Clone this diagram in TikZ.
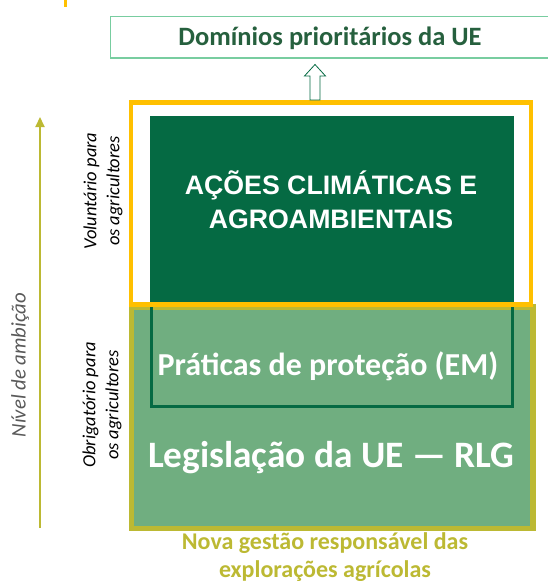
\documentclass[tikz,border=0pt]{standalone}
\usepackage{fontspec}
\setmainfont{Carlito}
\newfontfamily\arialfont{Liberation Sans}
\usetikzlibrary{arrows.meta}
\definecolor{dkgreen}{RGB}{5,106,67}
\definecolor{ltgreen}{RGB}{112,174,128}
\definecolor{olive}{RGB}{188,185,51}
\definecolor{gold}{RGB}{255,192,0}
\definecolor{mint}{RGB}{120,205,160}
\definecolor{titlegreen}{RGB}{38,96,62}
\definecolor{labelgray}{RGB}{89,89,89}
\tikzset{
  boxtext/.style={inner sep=0pt, align=center},
  sidelabel/.style={inner sep=0pt, align=center, rotate=90, font=\fontsize{18.5}{23}\selectfont\itshape},
}
\begin{document}
\begin{tikzpicture}[x=1pt,y=-1pt]
\useasboundingbox (0,0) rectangle (548,581);
\clip (0,0) rectangle (548,581);
% small mark at top
\fill[gold] (64,0) rectangle (67,7);
% top box
\draw[mint, line width=1.5pt] (110.5,16.5) rectangle (560,58);
\node[boxtext, text=titlegreen, font=\fontsize{26.5}{30}\selectfont\bfseries] (top) at (330,38) {Domínios prioritários da UE};
% lower box
\draw[olive, fill=ltgreen, line width=5.5pt] (131.5,307) rectangle (533,528.5);
\draw[dkgreen, line width=3pt] (151.5,305) rectangle (512,406.5);
% dark green box
\fill[dkgreen] (150,116) rectangle (514,303);
% yellow box
\draw[gold, line width=4.5pt] (131,102.5) rectangle (531,304.5);
% hollow arrow
\draw[dkgreen, fill=white, line width=0.8pt] (310,100) -- (310,76) -- (304.5,76) -- (315,64.5) -- (325.5,76) -- (320,76) -- (320,100) -- cycle;
% texts
\node[boxtext, text=white, font=\arialfont\fontsize{26.7}{34}\selectfont\bfseries] (acoes) at (331,200) {AÇÕES CLIMÁTICAS E\\AGROAMBIENTAIS};
\node[boxtext, text=white, font=\fontsize{32}{36}\selectfont\bfseries] (em) at (328,366) {Práticas de proteção (EM)};
\node[boxtext, text=white, font=\fontsize{37.3}{40}\selectfont\bfseries] (rlg) at (331,458) {Legislação da UE — RLG};
\node[boxtext, text=olive, font=\fontsize{24}{28}\selectfont\bfseries] (nova) at (325,557) {Nova gestão responsável das\\explorações agrícolas};
% left side
\coordinate (abot) at (40,528);
\coordinate (atop) at (40,117);
\draw[olive, line width=2pt, -{Triangle[width=9pt,length=10pt]}] (abot) -- (atop);
\node[sidelabel, text=labelgray, font=\fontsize{20.8}{24}\selectfont\itshape] (nivel) at (20,365) {Nível de ambição};
\node[sidelabel] (vol) at (103,191) {Voluntário para\\os agricultores};
\node[sidelabel] (obr) at (102,405) {Obrigatório para\\os agricultores};
\end{tikzpicture}
\end{document}
